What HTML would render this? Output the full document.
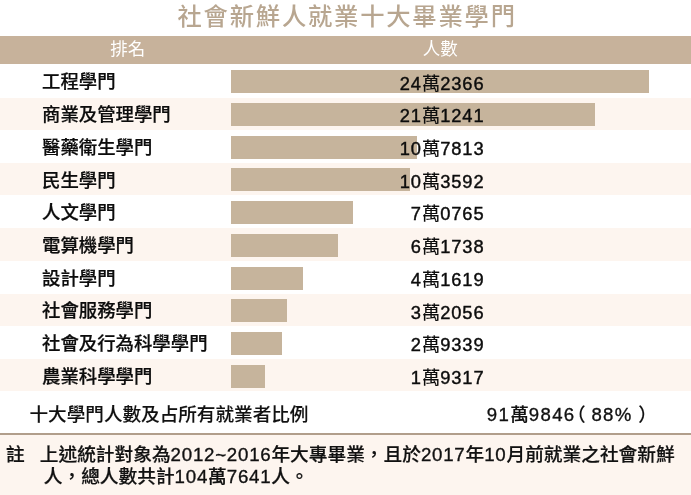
<!DOCTYPE html>
<html><head><meta charset="utf-8">
<style>
*{margin:0;padding:0;box-sizing:border-box}
html,body{width:691px;height:495px;overflow:hidden;background:#fff}
body{position:relative;font-family:"Liberation Sans","Noto Sans CJK TC",sans-serif;color:#111}
.a{position:absolute;white-space:nowrap}
.title{left:177.5px;top:2.5px;font-family:"Noto Sans CJK TC",sans-serif;font-weight:500;font-size:24.3px;line-height:24.3px;letter-spacing:1.8px;color:#b8a690}
.hdr{left:0;top:36px;width:691px;height:27.5px;background:#c7b29b}
.ht{top:39.2px;color:#fff;font-family:"Noto Sans CJK TC",sans-serif;font-size:17.5px;line-height:17.5px;font-weight:400}
.row{left:0;width:691px}
.pe{background:#fdf5ef}
.bar{left:231px;height:23px;background:#c6b49c}
.lab{left:42px;font-family:"Noto Sans CJK TC",sans-serif;font-weight:500;font-size:18.4px;line-height:18.4px;color:#0c0c0c}
.num{right:206.5px;font-weight:400;font-size:18.3px;line-height:18.3px;text-align:right;color:#0c0c0c}
.num .d{letter-spacing:0.9px}
.lab{-webkit-text-stroke:0.22px #0c0c0c}
.num .d{-webkit-text-stroke:0.42px #0c0c0c}
.num{-webkit-text-stroke:0.15px #0c0c0c}
.sumbg{left:0;top:391px;width:691px;height:42.3px;background:#fff}
.line{left:0;top:433.3px;width:691px;height:2px;background:#b19e8b}
.foot{left:0;top:435.3px;width:691px;height:80px;background:#fdf5ef}
.st{font-weight:500;font-size:18.6px;line-height:18.6px;color:#111}
.st .d{letter-spacing:1.35px}
.st{-webkit-text-stroke:0.1px #111}
.pl{position:relative;left:-8.6px;margin-right:-2.8px}
.pr{position:relative;left:5.55px}
.ft{font-weight:500;font-size:18.7px;line-height:18.7px;color:#111}
.ft .d{letter-spacing:0.75px}
.ft{-webkit-text-stroke:0.2px #111}
.ft .d,.st .d{-webkit-text-stroke:0.35px #111}
</style></head><body>
<div class="a title">社會新鮮人就業十大畢業學門</div>
<div class="a hdr"></div>
<div class="a ht" style="left:110.3px">排名</div>
<div class="a ht" style="left:422.8px">人數</div>

<div class="a row" style="top:64px;height:33px"></div>
<div class="a row pe" style="top:98px;height:32px"></div>
<div class="a row" style="top:130px;height:33px"></div>
<div class="a row pe" style="top:163px;height:32px"></div>
<div class="a row" style="top:196px;height:32px"></div>
<div class="a row pe" style="top:228px;height:33px"></div>
<div class="a row" style="top:261px;height:33px"></div>
<div class="a row pe" style="top:294px;height:32px"></div>
<div class="a row" style="top:327px;height:32px"></div>
<div class="a row pe" style="top:359px;height:32px"></div>
<div class="a bar" style="top:70px;width:418px"></div>
<div class="a lab" style="top:71.4px">工程學門</div>
<div class="a num" style="top:74.55px"><span class="d">24</span>萬<span class="d">2366</span></div>
<div class="a bar" style="top:103px;width:364.4px"></div>
<div class="a lab" style="top:104.12px">商業及管理學門</div>
<div class="a num" style="top:107.27px"><span class="d">21</span>萬<span class="d">1241</span></div>
<div class="a bar" style="top:136px;width:186.4px"></div>
<div class="a lab" style="top:136.84px">醫藥衛生學門</div>
<div class="a num" style="top:139.99px"><span class="d">10</span>萬<span class="d">7813</span></div>
<div class="a bar" style="top:168px;width:178.8px"></div>
<div class="a lab" style="top:169.56px">民生學門</div>
<div class="a num" style="top:172.71px"><span class="d">10</span>萬<span class="d">3592</span></div>
<div class="a bar" style="top:201px;width:122px"></div>
<div class="a lab" style="top:202.28px">人文學門</div>
<div class="a num" style="top:205.43px"><span class="d">7</span>萬<span class="d">0765</span></div>
<div class="a bar" style="top:234px;width:106.5px"></div>
<div class="a lab" style="top:235.0px">電算機學門</div>
<div class="a num" style="top:238.15px"><span class="d">6</span>萬<span class="d">1738</span></div>
<div class="a bar" style="top:267px;width:71.6px"></div>
<div class="a lab" style="top:267.72px">設計學門</div>
<div class="a num" style="top:270.87px"><span class="d">4</span>萬<span class="d">1619</span></div>
<div class="a bar" style="top:299px;width:55.5px"></div>
<div class="a lab" style="top:300.44px">社會服務學門</div>
<div class="a num" style="top:303.59px"><span class="d">3</span>萬<span class="d">2056</span></div>
<div class="a bar" style="top:332px;width:50.6px"></div>
<div class="a lab" style="top:333.16px">社會及行為科學學門</div>
<div class="a num" style="top:336.31px"><span class="d">2</span>萬<span class="d">9339</span></div>
<div class="a bar" style="top:365px;width:33.5px"></div>
<div class="a lab" style="top:365.88px">農業科學學門</div>
<div class="a num" style="top:369.03px"><span class="d">1</span>萬<span class="d">9317</span></div>
<div class="a sumbg"></div>
<div class="a st" style="left:29.5px;top:405.5px">十大學門人數及占所有就業者比例</div>
<div class="a st" style="left:486.8px;top:405.5px"><span class="d">91</span>萬<span class="d">9846</span><span class="pl">（</span><span class="d">88%</span><span class="pr">）</span></div>
<div class="a line"></div>
<div class="a foot"></div>
<div class="a ft" style="left:6px;top:445.5px">註</div>
<div class="a ft" style="left:39.8px;top:445.5px">上述統計對象為<span class="d">2012~2016</span>年大專畢業，且於<span class="d">2017</span>年<span class="d">10</span>月前就業之社會新鮮</div>
<div class="a ft" style="left:43.8px;top:467.8px">人，總人數共計<span class="d">104</span>萬<span class="d">7641</span>人。</div>
</body></html>
